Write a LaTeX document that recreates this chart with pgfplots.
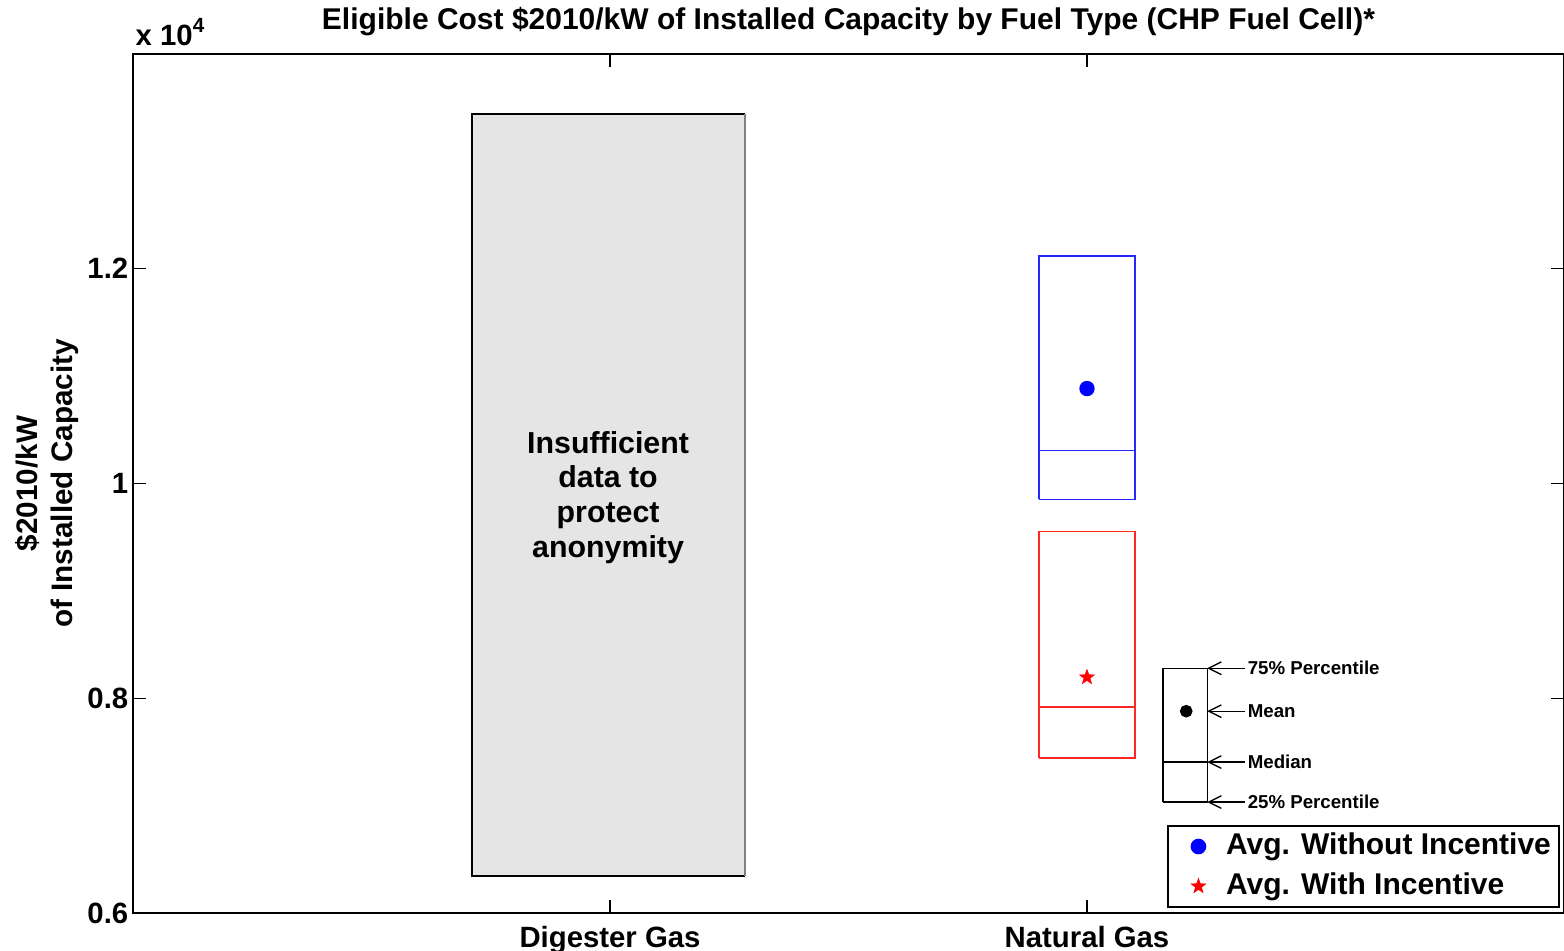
\documentclass[border=0pt]{standalone}
\usepackage{fontspec}
\setmainfont{Liberation Sans}
\usepackage{pgfplots}
\pgfplotsset{compat=1.18}
\usetikzlibrary{arrows.meta,calc}

\newcommand{\tfont}{\fontsize{8.8}{10}\selectfont\bfseries}
\newcommand{\kfont}{\fontsize{5.6}{6.5}\selectfont\bfseries}

% filled five-pointed star
\pgfdeclareplotmark{fstar}{%
  \pgfpathmoveto{\pgfpointpolar{90}{\pgfplotmarksize}}%
  \pgfpathlineto{\pgfpointpolar{126}{0.4\pgfplotmarksize}}%
  \pgfpathlineto{\pgfpointpolar{162}{\pgfplotmarksize}}%
  \pgfpathlineto{\pgfpointpolar{198}{0.4\pgfplotmarksize}}%
  \pgfpathlineto{\pgfpointpolar{234}{\pgfplotmarksize}}%
  \pgfpathlineto{\pgfpointpolar{270}{0.4\pgfplotmarksize}}%
  \pgfpathlineto{\pgfpointpolar{306}{\pgfplotmarksize}}%
  \pgfpathlineto{\pgfpointpolar{342}{0.4\pgfplotmarksize}}%
  \pgfpathlineto{\pgfpointpolar{18}{\pgfplotmarksize}}%
  \pgfpathlineto{\pgfpointpolar{54}{0.4\pgfplotmarksize}}%
  \pgfpathclose
  \pgfusepathqfillstroke}

\begin{document}
\begin{tikzpicture}
\begin{axis}[
  name=ax,
  scale only axis, width=429.3pt, height=257.7pt,
  xmin=0, xmax=3, ymin=6000, ymax=14000,
  xtick={1,2}, xticklabels={Digester Gas, Natural Gas},
  ytick={6000,8000,10000,12000}, yticklabels={0.6,0.8,1,1.2},
  scaled y ticks=false,
  tick align=inside, major tick length=3.9pt,
  axis line style={line width=0.6pt},
  every tick/.style={black, line width=0.4pt},
  ticklabel style={font=\tfont},
  /pgf/number format/assume math mode=true,
  xticklabel style={yshift=-0.6pt},
  yticklabel style={xshift=2.1pt},
  title={Eligible Cost \$2010/kW of Installed Capacity by Fuel Type (CHP Fuel Cell)*},
  every axis title/.style={at={(axis description cs:0.5,1)}, anchor=base, yshift=7.2pt,
    font=\fontsize{9}{11}\selectfont\bfseries},
  ylabel={\$2010/kW\\of Installed Capacity},
  every axis y label/.style={at={(axis description cs:-0.030,0.5)}, rotate=90, anchor=south, align=center, font=\fontsize{8.9}{10.5}\selectfont\bfseries},
  legend style={at={(axis description cs:0.997,0.006)}, anchor=south east, draw=black, line width=0.5pt,
    font=\fontsize{9}{11}\selectfont\bfseries, row sep=0.7pt, inner xsep=0.8pt, inner ysep=0.6pt,
    nodes={inner sep=1.6pt},
    /tikz/every odd column/.style={column sep=0pt}},
  legend cell align=left,
  legend image code/.code={%
    \path[draw=none, fill=none] (0pt,-2pt) rectangle (15.1pt,2pt);
    \draw[#1] plot coordinates {(8.4pt,0pt)};},
]
% grey block: insufficient data
\addplot[fill=gray!20, draw=none, forget plot] coordinates {(0.711,6344) (0.711,13442) (1.283,13442) (1.283,6344) (0.711,6344)};
\addplot[black, line width=0.5pt, forget plot] coordinates {(1.283,6344) (0.711,6344) (0.711,13442) (1.283,13442)};
\addplot[gray, line width=0.5pt, forget plot] coordinates {(1.283,13442) (1.283,6344)};
\node[font=\fontsize{9.1}{10.4}\selectfont\bfseries, align=center] at (axis cs:0.996,9870)
  {Insufficient\\data to\\protect\\anonymity};

% without incentive (blue)
\addplot[blue!85, line width=0.5pt, forget plot] coordinates {(1.9,9851) (1.9,12121) (2.1,12121) (2.1,9851) (1.9,9851)};
\addplot[blue!85, line width=0.5pt, forget plot] coordinates {(1.9,10307) (2.1,10307)};
% with incentive (red)
\addplot[red!85, line width=0.5pt, forget plot] coordinates {(1.9,7442) (1.9,9553) (2.1,9553) (2.1,7442) (1.9,7442)};
\addplot[red!85, line width=0.5pt, forget plot] coordinates {(1.9,7916) (2.1,7916)};

% key box
\addplot[black, line width=0.4pt, forget plot] coordinates {(2.159,7033) (2.159,8279) (2.252,8279) (2.252,7033) (2.159,7033)};
\addplot[black, line width=0.4pt, forget plot] coordinates {(2.159,7405) (2.252,7405)};
\addplot[only marks, mark=*, mark size=1.7pt, black, forget plot] coordinates {(2.208,7879)};
\addplot[black, line width=0.4pt, -{Straight Barb[length=3.8pt,width=3.8pt]}, forget plot] coordinates {(2.331,8279) (2.252,8279)};
\addplot[black, line width=0.4pt, -{Straight Barb[length=3.8pt,width=3.8pt]}, forget plot] coordinates {(2.331,7879) (2.252,7879)};
\addplot[black, line width=0.4pt, -{Straight Barb[length=3.8pt,width=3.8pt]}, forget plot] coordinates {(2.331,7405) (2.252,7405)};
\addplot[black, line width=0.4pt, -{Straight Barb[length=3.8pt,width=3.8pt]}, forget plot] coordinates {(2.331,7033) (2.252,7033)};
\node[font=\kfont, anchor=west, inner sep=0.4pt] at (axis cs:2.333,8279) {75\% Percentile};
\node[font=\kfont, anchor=west, inner sep=0.4pt] at (axis cs:2.333,7879) {Mean};
\node[font=\kfont, anchor=west, inner sep=0.4pt] at (axis cs:2.333,7405) {Median};
\node[font=\kfont, anchor=west, inner sep=0.4pt] at (axis cs:2.333,7033) {25\% Percentile};

% averages
\addplot[only marks, mark=*, mark size=2.1pt, blue] coordinates {(2.0,10884)};
\addlegendentry{Avg. Without Incentive}
\addplot[only marks, mark=fstar, mark size=2.3pt, red, mark options={fill=red, line width=0.2pt}] coordinates {(2.0,8195)};
\addlegendentry{Avg. With Incentive}
\end{axis}
\node[anchor=base west, inner sep=0pt, font=\fontsize{8.8}{10}\selectfont\bfseries] at ($(ax.north west)+(0.6pt,2.6pt)$) {x 10\textsuperscript{4}};
\pgfresetboundingbox
\path ($(ax.south west)+(-39.9pt,-11.4pt)$) rectangle ($(ax.north east)+(0,16.2pt)$);
\end{tikzpicture}
\end{document}
